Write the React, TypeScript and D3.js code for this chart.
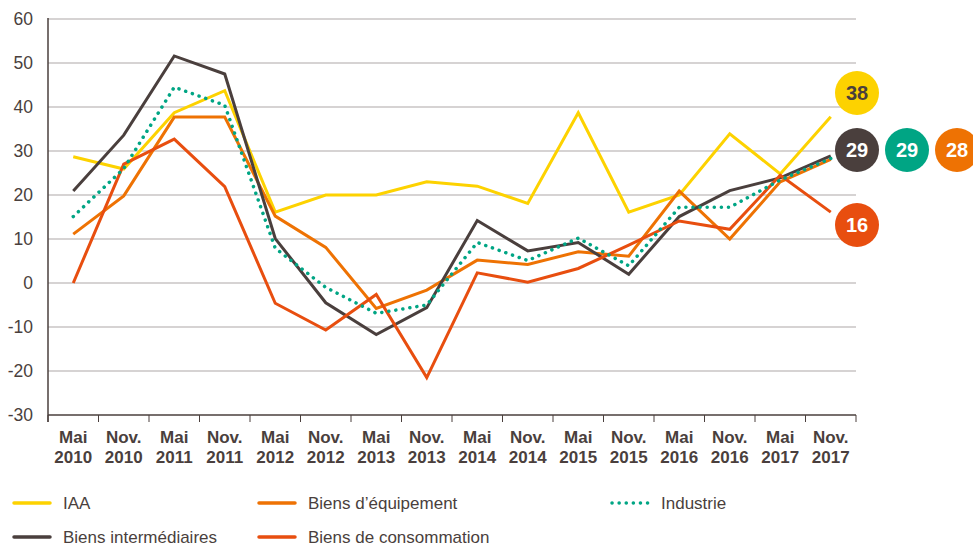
import React from 'react';
import * as d3 from 'd3';

const months = ['Mai', 'Nov.', 'Mai', 'Nov.', 'Mai', 'Nov.', 'Mai', 'Nov.', 'Mai', 'Nov.', 'Mai', 'Nov.', 'Mai', 'Nov.', 'Mai', 'Nov.'];
const years = ['2010', '2010', '2011', '2011', '2012', '2012', '2013', '2013', '2014', '2014', '2015', '2015', '2016', '2016', '2017', '2017'];
const yTicks = [-30, -20, -10, 0, 10, 20, 30, 40, 50, 60];

const iaa = [28.7, 25.9, 38.7, 43.7, 16.1, 20, 20, 23, 22, 18.1, 38.7, 16.1, 20, 33.9, 24.8, 37.8];
const equipement = [11.1, 19.8, 37.7, 37.7, 15.2, 8.1, -5.8, -1.6, 5.2, 4.2, 7.1, 6.1, 20.9, 10, 23, 28.1];
const industrie = [15.1, 26, 44.5, 40.4, 7.9, -1, -6.9, -5, 9.2, 5.1, 10.2, 3.9, 17.2, 17.2, 23.4, 28.3];
const intermediaires = [20.9, 33.6, 51.6, 47.5, 10.1, -4.5, -11.7, -5.6, 14.2, 7.3, 9.2, 2, 15.1, 21, 23.9, 28.9];
const consommation = [0, 27, 32.7, 21.9, -4.6, -10.7, -2.6, -21.5, 2.3, 0.2, 3.3, 8.6, 14.1, 12.2, 24.5, 16.1];

const lastLabels = ['38', '29', '29', '28', '16'];

const ink = '#4a3f3d';
const font = '"Liberation Sans", Arial, sans-serif';

const series = [
  { name: 'IAA', values: iaa, color: '#fdd200', dotted: false },
  { name: 'Biens d\u2019\u00e9quipement', values: equipement, color: '#ee7203', dotted: false },
  { name: 'Industrie', values: industrie, color: '#00a584', dotted: true },
  { name: 'Biens interm\u00e9diaires', values: intermediaires, color: '#4a3f3d', dotted: false },
  { name: 'Biens de consommation', values: consommation, color: '#e84e0f', dotted: false },
];

const App = () => {
  const width = 973;
  const height = 547;
  const left = 48, right = 856, top = 19, bottom = 415;

  const idx = d3.range(months.length);
  const x = d3.scaleBand<number>().domain(idx).range([left, right]);
  const y = d3.scaleLinear().domain([-30, 60]).range([bottom, top]);
  const cx = (i: number) => (x(i) as number) + x.bandwidth() / 2;

  const line = d3.line<number>().x((d, i) => cx(i)).y(d => y(d));

  // value bubbles on the right
  const bubbles = [
    { s: 0, text: lastLabels[0], bx: 857, by: 93, fg: ink },
    { s: 3, text: lastLabels[1], bx: 857, by: 150, fg: '#fff' },
    { s: 2, text: lastLabels[2], bx: 907, by: 150, fg: '#fff' },
    { s: 1, text: lastLabels[3], bx: 957, by: 150, fg: '#fff' },
    { s: 4, text: lastLabels[4], bx: 857, by: 225, fg: '#fff' },
  ];

  const legend = [
    { s: 0, lx: 14, ly: 503 },
    { s: 1, lx: 259, ly: 503 },
    { s: 2, lx: 612, ly: 503 },
    { s: 3, lx: 14, ly: 537 },
    { s: 4, lx: 259, ly: 537 },
  ];

  const ticksX = idx.map(i => x(i) as number).concat([right]);

  return (
    <svg width={width} height={height} style={{ position: 'absolute', left: 0, top: 0 }} fontFamily={font}>
      {yTicks.map(t => (
        <g key={t}>
          {t !== -30 && <line x1={left} x2={right} y1={y(t)} y2={y(t)} stroke="#c9c5c5" strokeWidth={1.5} />}
          <text x={33} y={y(t)} dy="0.35em" textAnchor="end" fontSize={17.5} fill={ink}>{t}</text>
        </g>
      ))}
      <line x1={left} x2={left} y1={top - 1} y2={bottom + 7} stroke={ink} strokeWidth={1.5} />
      <line x1={left} x2={right} y1={bottom} y2={bottom} stroke={ink} strokeWidth={1.5} />
      {ticksX.map((tx, i) => (
        <line key={i} x1={tx} x2={tx} y1={bottom} y2={bottom + 7} stroke={ink} strokeWidth={1} />
      ))}
      {idx.map(i => (
        <text key={i} x={cx(i)} textAnchor="middle" fontSize={17} fontWeight="bold" fill={ink}>
          <tspan x={cx(i)} y={443}>{months[i]}</tspan>
          <tspan x={cx(i)} y={463}>{years[i]}</tspan>
        </text>
      ))}
      {[0, 1, 3, 4, 2].map(k => {
        const s = series[k];
        return (
          <path
            key={s.name}
            d={line(s.values) as string}
            fill="none"
            stroke={s.color}
            strokeWidth={s.dotted ? 3.5 : 3}
            strokeLinecap={s.dotted ? 'round' : 'butt'}
            strokeDasharray={s.dotted ? '0.1 7' : undefined}
            strokeLinejoin="miter"
          />
        );
      })}
      {bubbles.map((b, i) => (
        <g key={i}>
          <circle cx={b.bx} cy={b.by} r={22} fill={series[b.s].color} />
          <text x={b.bx} y={b.by} dy="0.36em" textAnchor="middle" fontSize={20} fontWeight="bold" fill={b.fg}>{b.text}</text>
        </g>
      ))}
      {legend.map(l => {
        const s = series[l.s];
        return (
          <g key={s.name}>
            <line
              x1={l.lx} x2={l.lx + 36} y1={l.ly} y2={l.ly}
              stroke={s.color}
              strokeWidth={3.5}
              strokeLinecap="round"
              strokeDasharray={s.dotted ? '0.1 7' : undefined}
            />
            <text x={l.lx + 49} y={l.ly} dy="0.35em" fontSize={17} fill={ink}>{s.name}</text>
          </g>
        );
      })}
    </svg>
  );
};

export default App;
